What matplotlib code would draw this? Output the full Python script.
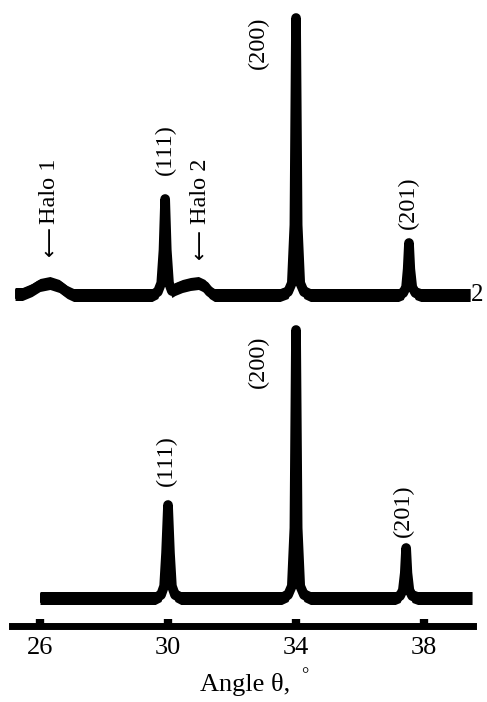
import matplotlib
matplotlib.use("Agg")
import numpy as np
import matplotlib.pyplot as plt

plt.rcParams['font.family'] = ['Liberation Serif', 'DejaVu Serif']

# trace 1 (lower curve), angle in degrees and intensity above its own baseline
angle_1 = [26.0, 29.6, 29.78, 29.88, 29.94, 30.0, 30.06, 30.12, 30.22, 30.4,
           33.55, 33.75, 33.87, 33.95, 34.0, 34.05, 34.13, 34.25, 34.45,
           37.1, 37.25, 37.34, 37.4, 37.44, 37.48, 37.54, 37.63, 37.8, 39.5]
inten_1 = [0, 0, 3, 12, 45, 93, 45, 12, 3, 0,
           0, 3, 12, 70, 268, 70, 12, 3, 0,
           0, 2, 8, 25, 50, 25, 8, 2, 0, 0]

# trace 2 (upper curve) with the two amorphous halos
angle_2 = [25.22, 25.45, 25.75, 26.0, 26.31, 26.6, 26.85, 27.05,
           29.5, 29.68, 29.79, 29.86, 29.91, 29.96, 30.03, 30.12, 30.22, 30.45, 30.7, 30.95, 31.15, 31.3, 31.45,
           33.5, 33.75, 33.87, 33.95, 34.0, 34.05, 34.13, 34.25, 34.45,
           37.2, 37.35, 37.44, 37.49, 37.53, 37.57, 37.63, 37.73, 37.9, 39.44]
inten_2 = [1, 1, 5, 10, 12, 9, 3, 0,
           0, 3, 12, 45, 96, 45, 12, 4, 6, 9, 11, 12, 9, 3, 0,
           0, 3, 12, 70, 277, 70, 12, 3, 0,
           0, 2, 8, 26, 52, 26, 8, 2, 0, 0]

offset_1 = 28
offset_2 = 331

ticks = [26, 30, 34, 38]

labels_2 = [("(111)", 29.91, 476), ("(200)", 32.81, 583), ("(201)", 37.5, 423)]
labels_1 = [("(111)", 29.94, 165), ("(200)", 32.81, 264), ("(201)", 37.34, 115)]
halos = [("Halo 1", 26.31, 435, 385), ("Halo 2", 31.0, 435, 382)]

fig = plt.figure(figsize=(4.87, 7.02), dpi=100)
ax = fig.add_axes([12 / 487, 76 / 702, 461 / 487, 626 / 702])
ax.set_xlim(25.125, 39.53)
ax.set_ylim(0, 626)

for xs, ys, off in [(angle_1, inten_1, offset_1), (angle_2, inten_2, offset_2)]:
    y = np.array(ys) + off
    ax.fill_between(xs, y - 6.5, y + 6.5, color='black', lw=0)
    ax.plot(xs, y, color='black', lw=7, solid_capstyle='butt', solid_joinstyle='round')

for txt, x, y in labels_2 + labels_1:
    ax.text(x, y, txt, rotation=90, ha='center', va='center', fontsize=17.5)

for txt, x, y_txt, y_arrow in halos:
    ax.text(x, y_txt, txt, rotation=90, ha='center', va='center', fontsize=17.5)
    ax.text(x, y_arrow, "⟵", rotation=90, ha='center', va='center', fontsize=15,
            family='DejaVu Sans')

ax.text(39.66, offset_2, "2", ha='center', va='center', fontsize=18, clip_on=False)
ax.text(39.92, offset_1, "1", ha='left', va='center', fontsize=17, clip_on=False,
        color='#888888')

for s in ['top', 'left', 'right']:
    ax.spines[s].set_visible(False)
ax.spines['bottom'].set_linewidth(5)
ax.set_yticks([])
ax.set_xticks(ticks)
ax.set_xticklabels([str(t) for t in ticks])
ax.tick_params(axis='x', direction='in', length=5, width=6, pad=8, labelsize=19)

fig.text(245 / 487, 1 - 684 / 702, "Angle θ,", ha='center', va='center', fontsize=19)
fig.text(305 / 487, 1 - 676 / 702, "°", ha='center', va='center', fontsize=13)

fig.savefig("out.png", dpi=100)
